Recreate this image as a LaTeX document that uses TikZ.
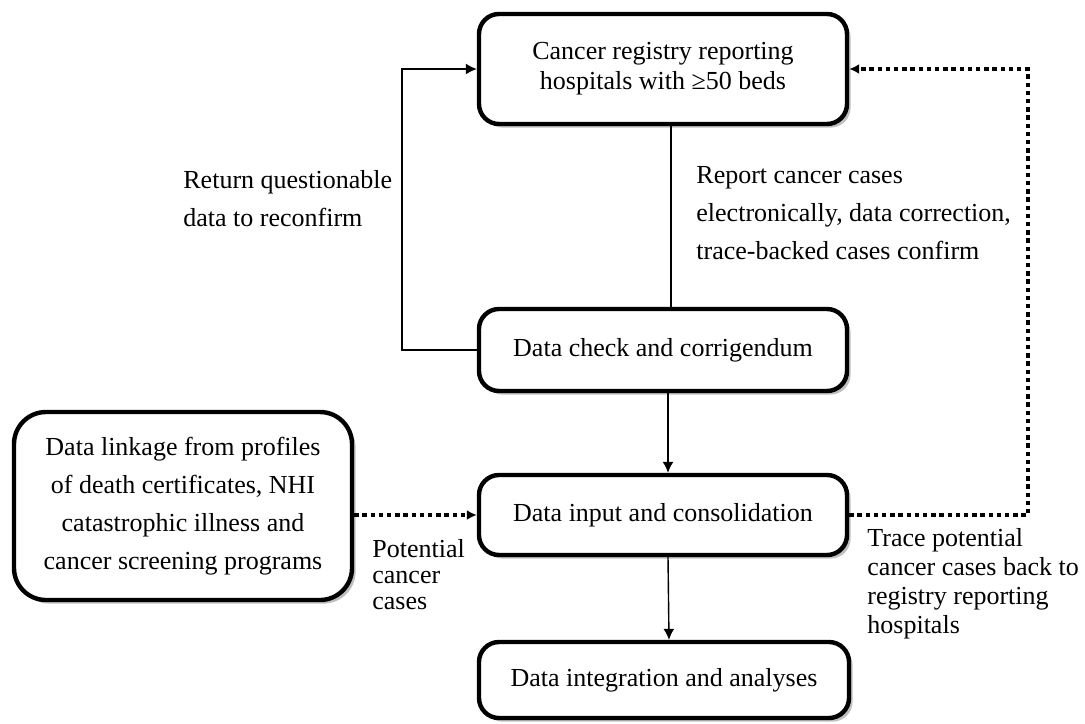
\documentclass[tikz,border=0pt]{standalone}
\usepackage{fontspec}
\setmainfont{Liberation Serif}
\usetikzlibrary{arrows.meta,shadows}
\newcommand{\picw}{1085}
\newcommand{\pich}{723}
\newcommand{\txt}[1]{\fontsize{13}{#1}\selectfont}

\tikzset{
  stage/.style={draw, line width=2.2pt, rounded corners=10pt, fill=white,
    drop shadow={shadow xshift=1.8pt, shadow yshift=-1.8pt, fill=black!50},
    minimum width=184pt, align=center, font=\txt{15}},
  flow/.style={line width=0.7pt, -{Latex[length=5.5pt,width=5.5pt]}},
  trace/.style={line width=1.7pt, dash pattern=on 2.2pt off 1.9pt,
    -{Latex[length=5pt,width=5pt]}},
  note/.style={align=left, anchor=west, inner sep=0pt}
}

\begin{document}
\begin{tikzpicture}[x=0.5pt, y=-0.5pt]
    \useasboundingbox (0,0) rectangle (\picw,\pich);
    % boxes
    \node[stage, minimum height=55pt] (hosp) at (663,69)
        {Cancer registry reporting\\ hospitals with ≥50 beds};
    \node[stage, minimum height=41pt] (check) at (663,350)
        {Data check and corrigendum};
    \node[stage, minimum height=40pt] (input) at (663,515)
        {Data input and consolidation};
    \node[stage, minimum height=38pt, minimum width=185pt] (integ) at (664,680)
        {Data integration and analyses};
    \node[stage, minimum width=169pt, minimum height=94pt, rounded corners=16pt,
          font=\txt{19}] (link) at (183,506)
        {Data linkage from profiles\\ of death certificates, NHI\\
         catastrophic illness and\\ cancer screening programs};

    % labels
    \node[note, font=\txt{19}] (ret) at (183,199)
        {Return questionable\\ data to reconfirm};
    \node[note, font=\txt{19}] (rep) at (696,213)
        {Report cancer cases\\ electronically, data correction,\\
         trace-backed cases confirm};
    \node[note, font=\txt{13}] (pot) at (372,575)
        {Potential\\ cancer\\ cases};
    \node[note, font=\txt{14.5}] (tpc) at (867,584)
        {Trace potential\\ cancer cases back to\\ registry reporting\\ hospitals};

    % connectors
    \coordinate (retx) at (402,0);
    \coordinate (tracex) at (1028,0);
    \draw[line width=0.7pt] ([xshift=4pt]hosp.south) -- ([xshift=4pt]check.north);
    \draw[flow] ([xshift=2.5pt]check.south) -- ([xshift=2.5pt]input.north);
    \draw[flow] ([xshift=2.5pt]input.south) -- ([xshift=2.5pt]integ.north);
    \draw[flow] (check.west) -- (check.west -| retx) |- (hosp.west);
    \draw[trace] (link.east |- input.west) -- (input.west);
    \draw[trace] (input.east) -- (input.east -| tracex) |- (hosp.east);
\end{tikzpicture}
\end{document}
